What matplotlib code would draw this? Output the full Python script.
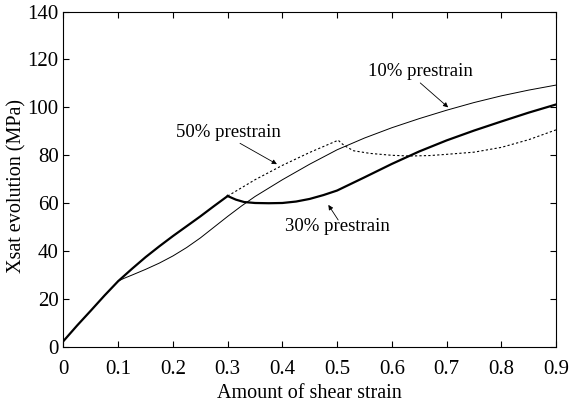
import matplotlib.pyplot as plt

# --- dados ---
mono_x = [0, 0.025, 0.05, 0.075, 0.1, 0.125, 0.15, 0.175, 0.2, 0.225, 0.25, 0.275, 0.3]
mono_y = [2.5, 9, 15.2, 21.5, 27.5, 32.6, 37.5, 42.0, 46.3, 50.4, 54.5, 58.8, 63.0]

x10 = [0.1, 0.11, 0.125, 0.15, 0.175, 0.2, 0.225, 0.25, 0.275, 0.3, 0.325, 0.35, 0.4, 0.45,
       0.5, 0.55, 0.6, 0.65, 0.7, 0.75, 0.8, 0.85, 0.9]
y10 = [27.5, 28.6, 30.0, 32.4, 35.0, 38.0, 41.5, 45.5, 50.0, 54.5, 58.8, 62.8, 69.8, 76.3,
       82.3, 87.2, 91.5, 95.3, 98.8, 102.0, 104.8, 107.2, 109.3]

x30 = [0.3, 0.315, 0.33, 0.35, 0.375, 0.4, 0.425, 0.45, 0.475, 0.5, 0.55, 0.6, 0.65, 0.7,
       0.75, 0.8, 0.85, 0.9]
y30 = [63.0, 61.5, 60.5, 60.1, 60.0, 60.1, 60.7, 61.8, 63.4, 65.3, 70.8, 76.4, 81.6, 86.2,
       90.3, 94.1, 97.8, 101.2]

x50 = [0.3, 0.35, 0.4, 0.45, 0.502, 0.508, 0.515, 0.53, 0.56, 0.6, 0.633, 0.67, 0.7, 0.75,
       0.8, 0.85, 0.9]
y50 = [63.0, 69.8, 75.8, 81.2, 86.3, 85.0, 83.8, 81.9, 80.8, 80.0, 79.7, 79.9, 80.4, 81.3,
       83.3, 86.5, 90.6]

xticks = [0, 0.1, 0.2, 0.3, 0.4, 0.5, 0.6, 0.7, 0.8, 0.9]
xtick_labels = ['0', '0.1', '0.2', '0.3', '0.4', '0.5', '0.6', '0.7', '0.8', '0.9']
yticks = [0, 20, 40, 60, 80, 100, 120, 140]

plt.rcParams['font.family'] = ['Liberation Serif', 'DejaVu Serif']

fig = plt.figure(figsize=(5.7, 4.07), dpi=100)
ax = fig.add_axes([0.1114, 0.1474, 0.864, 0.8243])

ax.plot(mono_x, mono_y, color='k', lw=1.6)
ax.plot(x30, y30, color='k', lw=1.6)
ax.plot(x10, y10, color='k', lw=0.7)
ax.plot(x50, y50, color='k', lw=0.8, linestyle=(0, (2, 2)))

# --- rótulos com setas ---
arrow = dict(arrowstyle='-|>', color='k', lw=0.6, mutation_scale=7, shrinkA=0, shrinkB=0)
ax.text(0.652, 114.9, '10% prestrain', ha='center', va='center', fontsize=13.5)
ax.annotate('', xy=(0.703, 100), xytext=(0.652, 110.2), arrowprops=arrow)
ax.text(0.301, 89.4, '50% prestrain', ha='center', va='center', fontsize=13.5)
ax.annotate('', xy=(0.39, 76.3), xytext=(0.3226, 85), arrowprops=arrow)
ax.text(0.5007, 50.2, '30% prestrain', ha='center', va='center', fontsize=13.5)
ax.annotate('', xy=(0.484, 59.3), xytext=(0.502, 53), arrowprops=arrow)

ax.set_xlim(0, 0.9)
ax.set_ylim(0, 140)
ax.set_xticks(xticks)
ax.set_xticklabels(xtick_labels)
ax.set_yticks(yticks)
ax.tick_params(direction='in', top=True, right=True, length=4, width=0.8, labelsize=15)
ax.tick_params(axis='x', pad=9)
ax.set_xlabel('Amount of shear strain', fontsize=14.5, labelpad=4)
ax.set_ylabel('Xsat evolution (MPa)', fontsize=14.5)
ax.yaxis.set_label_coords(-0.076, 0.48)

fig.savefig('out.png', dpi=100)
